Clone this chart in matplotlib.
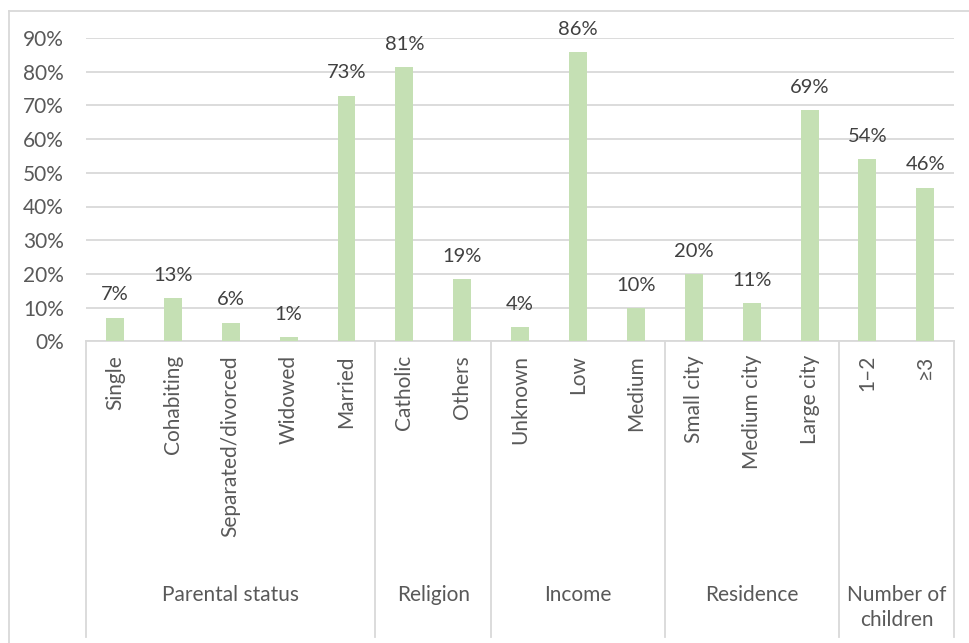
import matplotlib
matplotlib.use("Agg")
import matplotlib.pyplot as plt
from matplotlib.lines import Line2D
import matplotlib.transforms as mtransforms

plt.rcParams['font.family'] = ['Lato', 'DejaVu Sans']

# ---- data ----
groups = ["Parental status", "Religion", "Income", "Residence", "Number of\nchildren"]
group_sizes = [5, 2, 3, 3, 2]
categories = ["Single", "Cohabiting", "Separated/divorced", "Widowed", "Married",
              "Catholic", "Others",
              "Unknown", "Low", "Medium",
              "Small city", "Medium city", "Large city",
              "1\u20132", "\u22653"]
values = [0.07, 0.128, 0.055, 0.012, 0.729,
          0.814, 0.185,
          0.042, 0.857, 0.099,
          0.200, 0.113, 0.685,
          0.541, 0.456]
labels = ["7%", "13%", "6%", "1%", "73%",
          "81%", "19%",
          "4%", "86%", "10%",
          "20%", "11%", "69%",
          "54%", "46%"]
yticks = [0, 0.1, 0.2, 0.3, 0.4, 0.5, 0.6, 0.7, 0.8, 0.9]
ytick_labels = ["0%", "10%", "20%", "30%", "40%", "50%", "60%", "70%", "80%", "90%"]

W, H = 969, 643
fig = plt.figure(figsize=(W / 100, H / 100), dpi=100)
ax = fig.add_axes([86 / W, (H - 341.3) / H, (954.3 - 86) / W, (341.3 - 38) / H])

x = list(range(len(categories)))
ax.bar(x, values, width=0.31, color="#c5e0b4", zorder=3)
ax.set_xlim(-0.5, len(categories) - 0.5)
ax.set_ylim(0, 0.9)
ax.set_yticks(yticks)
ax.set_yticklabels(ytick_labels, fontsize=15, color="#595959")
ax.tick_params(axis='y', length=0, pad=16)
ax.set_xticks([])
ax.grid(axis='y', color="#d9d9d9", linewidth=1.3, zorder=0)
for s in ["top", "right", "left"]:
    ax.spines[s].set_visible(False)
ax.spines["bottom"].set_color("#d9d9d9")
ax.spines["bottom"].set_linewidth(1.3)

for xi, v, lab in zip(x, values, labels):
    ax.annotate(lab, (xi, v), xytext=(0, 12.5), textcoords="offset points",
                ha="center", va="baseline", fontsize=14.5, color="#404040", clip_on=False)

# category labels and group separators (figure-pixel y positions)
trans = mtransforms.blended_transform_factory(ax.transData, fig.transFigure)
for xi, cat in zip(x, categories):
    ax.text(xi, 1 - 355 / H, cat, rotation=90, ha="center", va="top",
            fontsize=15, color="#595959", transform=trans)

bounds = [-0.5]
start = 0
for g, n in zip(groups, group_sizes):
    center = start + (n - 1) / 2
    ax.text(center, 1 - 585 / H, g, ha="center", va="top", fontsize=15,
            color="#595959", transform=trans, linespacing=1.3, multialignment="center")
    start += n
    bounds.append(start - 0.5)

for b in bounds:
    ax.add_line(Line2D([b, b], [1 - 341.3 / H, 1 - 636.5 / H], transform=trans,
                       color="#d9d9d9", linewidth=1.3, clip_on=False))

# chart border
fig.add_artist(Line2D([9 / W, 1], [1 - 11 / H, 1 - 11 / H], transform=fig.transFigure,
                      color="#d9d9d9", linewidth=1.3))
fig.add_artist(Line2D([9 / W, 9 / W], [1 - 11 / H, 0], transform=fig.transFigure,
                      color="#d9d9d9", linewidth=1.3))

fig.savefig("out.png", dpi=100)
